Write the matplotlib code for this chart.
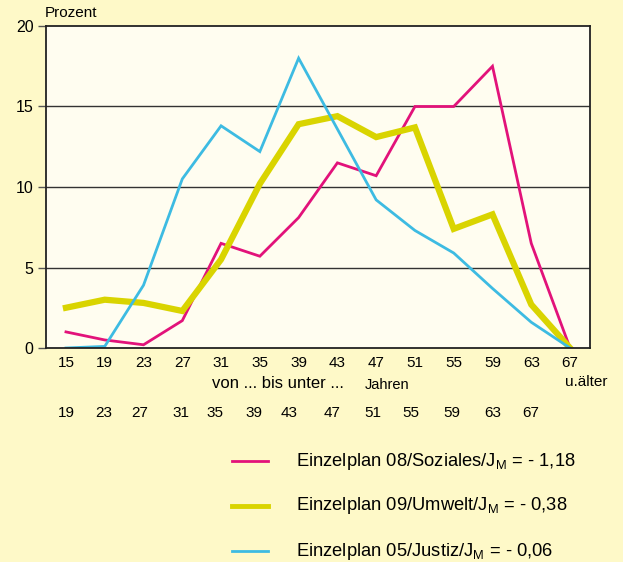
import matplotlib
matplotlib.use("Agg")
import matplotlib.pyplot as plt

plt.rcParams['font.family'] = ['Liberation Sans', 'DejaVu Sans']

# age groups (from ... to under ...)
ages_from = [15, 19, 23, 27, 31, 35, 39, 43, 47, 51, 55, 59, 63, 67]
ages_to = ["19", "23", "27", "31", "35", "39", "43", "47", "51", "55", "59", "63", "67"]

# percent values
soziales = [1.0, 0.5, 0.2, 1.7, 6.5, 5.7, 8.1, 11.5, 10.7, 15.0, 15.0, 17.5, 6.5, 0.0]
umwelt = [2.5, 3.0, 2.8, 2.3, 5.5, 10.2, 13.9, 14.4, 13.1, 13.7, 7.4, 8.3, 2.7, 0.0]
justiz = [0.0, 0.1, 3.9, 10.5, 13.8, 12.2, 18.0, 13.6, 9.2, 7.3, 5.9, 3.7, 1.6, 0.0]

labels = [r"Einzelplan 08/Soziales/J$_\mathregular{M}$ = - 1,18",
          r"Einzelplan 09/Umwelt/J$_\mathregular{M}$ = - 0,38",
          r"Einzelplan 05/Justiz/J$_\mathregular{M}$ = - 0,06"]
colors = ["#e2127a", "#d9d400", "#3dbbe2"]
widths = [2.0, 4.5, 2.0]

W, H = 623, 562
fig = plt.figure(figsize=(W / 100, H / 100), dpi=100)
fig.patch.set_facecolor("#fef9c8")

# axes placed in pixel terms of the original
ax = fig.add_axes([46 / W, (H - 348) / H, (590 - 46) / W, (348 - 26) / H])
ax.set_facecolor("#fffdf0")

for y, c, lw in zip([soziales, umwelt, justiz], colors, widths):
    ax.plot(ages_from, y, color=c, lw=lw, solid_joinstyle="miter")

ax.set_xlim(12.94, 69.06)
ax.set_ylim(0, 20)
ax.set_xticks(ages_from)
ax.set_yticks([0, 5, 10, 15, 20])
ax.tick_params(axis="x", length=0, pad=6, labelsize=11)
ax.tick_params(axis="y", length=6, width=1, color="#555555", labelsize=11.5, pad=3)
for g in [5, 10, 15]:
    ax.axhline(g, color="#333333", lw=1, zorder=0.5)
for s in ax.spines.values():
    s.set_color("#222222")
    s.set_linewidth(1.3)

fig.text(45 / W, 1 - 13 / H, "Prozent", fontsize=11, va="center", ha="left")
fig.text(212 / W, 1 - 384 / H, "von ... bis unter ...", fontsize=12, va="center", ha="left")
fig.text(365 / W, 1 - 385 / H, "Jahren", fontsize=10.5, va="center", ha="left")
fig.text(586 / W, 1 - 382 / H, "u.älter", fontsize=11, va="center", ha="center")

# second row: upper bound of each age group
to_px = [66, 104, 140, 181, 215, 254, 289, 332, 373, 411, 452, 493, 531]
for px, t in zip(to_px, ages_to):
    fig.text(px / W, 1 - 413 / H, t, fontsize=11, va="center", ha="center")

# legend drawn by hand, no frame
leg_y = [461, 506, 551]
leg_w = [2.0, 3.5, 2.0]
for yy, lab, c, lw in zip(leg_y, labels, colors, leg_w):
    fig.add_artist(plt.Line2D([232 / W, 268 / W], [1 - yy / H, 1 - yy / H], color=c, lw=lw))
    fig.text(296 / W, 1 - yy / H, lab, fontsize=13.2, va="center", ha="left")

fig.savefig("out.png", dpi=100, facecolor=fig.get_facecolor())
